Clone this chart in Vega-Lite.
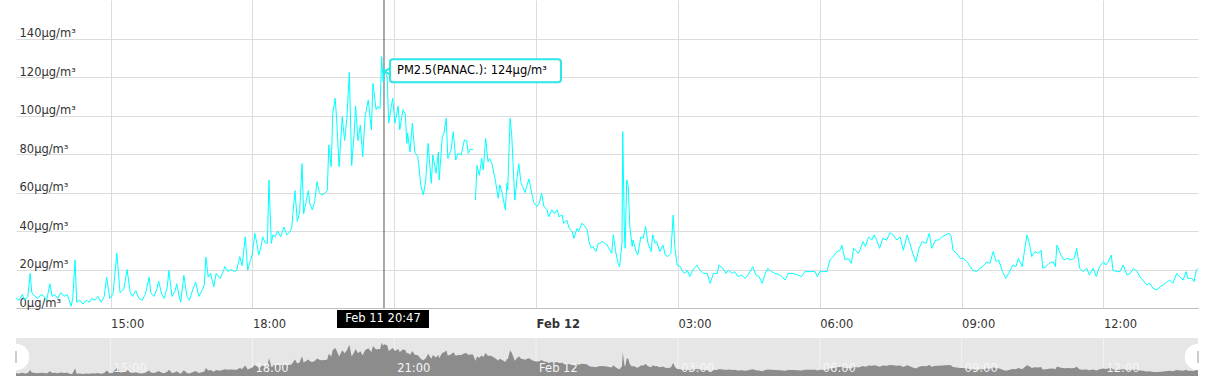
{
  "width": 1182,
  "height": 308,
  "autosize": {"type": "none"},
  "padding": {"left": 16, "top": 0, "right": 20, "bottom": 68},
  "config": {"view": {"stroke": null}},
  "data": {"values": [
      {"t":"2015-02-11T13:00","v":5},{"t":"2015-02-11T13:04","v":4},{"t":"2015-02-11T13:08","v":7},{"t":"2015-02-11T13:11","v":4},{"t":"2015-02-11T13:15","v":6},{"t":"2015-02-11T13:18","v":18},{"t":"2015-02-11T13:20","v":8},{"t":"2015-02-11T13:24","v":6},{"t":"2015-02-11T13:28","v":5},{"t":"2015-02-11T13:32","v":7},{"t":"2015-02-11T13:36","v":6},{"t":"2015-02-11T13:39","v":4},{"t":"2015-02-11T13:43","v":12.6},{"t":"2015-02-11T13:46","v":6},{"t":"2015-02-11T13:49","v":7},{"t":"2015-02-11T13:53","v":5},{"t":"2015-02-11T13:57","v":8},
      {"t":"2015-02-11T14:01","v":6},{"t":"2015-02-11T14:05","v":7},{"t":"2015-02-11T14:10","v":1},{"t":"2015-02-11T14:12","v":5},{"t":"2015-02-11T14:15","v":25},{"t":"2015-02-11T14:17","v":3},{"t":"2015-02-11T14:21","v":4},{"t":"2015-02-11T14:25","v":2},{"t":"2015-02-11T14:29","v":4},{"t":"2015-02-11T14:33","v":3},{"t":"2015-02-11T14:36","v":5},{"t":"2015-02-11T14:40","v":4},{"t":"2015-02-11T14:44","v":6},{"t":"2015-02-11T14:48","v":3},{"t":"2015-02-11T14:52","v":6},{"t":"2015-02-11T14:55","v":16},{"t":"2015-02-11T14:59","v":5},
      {"t":"2015-02-11T15:03","v":7},{"t":"2015-02-11T15:08","v":28.5},{"t":"2015-02-11T15:12","v":8},{"t":"2015-02-11T15:17","v":10},{"t":"2015-02-11T15:21","v":20},{"t":"2015-02-11T15:25","v":8},{"t":"2015-02-11T15:28","v":6},{"t":"2015-02-11T15:32","v":9},{"t":"2015-02-11T15:36","v":5},{"t":"2015-02-11T15:40","v":4},{"t":"2015-02-11T15:44","v":7},{"t":"2015-02-11T15:49","v":16},{"t":"2015-02-11T15:51","v":8},{"t":"2015-02-11T15:55","v":6},{"t":"2015-02-11T15:59","v":10},
      {"t":"2015-02-11T16:01","v":14},{"t":"2015-02-11T16:05","v":7},{"t":"2015-02-11T16:08","v":5},{"t":"2015-02-11T16:12","v":11},{"t":"2015-02-11T16:14","v":19.5},{"t":"2015-02-11T16:18","v":6},{"t":"2015-02-11T16:22","v":9},{"t":"2015-02-11T16:24","v":12.6},{"t":"2015-02-11T16:27","v":6},{"t":"2015-02-11T16:29","v":3},{"t":"2015-02-11T16:33","v":17},{"t":"2015-02-11T16:37","v":6},{"t":"2015-02-11T16:40","v":4},{"t":"2015-02-11T16:43","v":8},{"t":"2015-02-11T16:48","v":13.5},{"t":"2015-02-11T16:52","v":6},{"t":"2015-02-11T16:56","v":9},{"t":"2015-02-11T16:59","v":12},
      {"t":"2015-02-11T17:01","v":26.5},{"t":"2015-02-11T17:04","v":16},{"t":"2015-02-11T17:07","v":18},{"t":"2015-02-11T17:11","v":11},{"t":"2015-02-11T17:14","v":18},{"t":"2015-02-11T17:19","v":15.4},{"t":"2015-02-11T17:23","v":19},{"t":"2015-02-11T17:25","v":21.5},{"t":"2015-02-11T17:29","v":19},{"t":"2015-02-11T17:33","v":20},{"t":"2015-02-11T17:37","v":19},{"t":"2015-02-11T17:40","v":19.5},{"t":"2015-02-11T17:44","v":26.7},{"t":"2015-02-11T17:47","v":22},{"t":"2015-02-11T17:51","v":37},{"t":"2015-02-11T17:54","v":19.7},{"t":"2015-02-11T17:57","v":24},
      {"t":"2015-02-11T18:00","v":28},{"t":"2015-02-11T18:03","v":38.8},{"t":"2015-02-11T18:06","v":33},{"t":"2015-02-11T18:08","v":27.5},{"t":"2015-02-11T18:11","v":32},{"t":"2015-02-11T18:13","v":37},{"t":"2015-02-11T18:16","v":34},{"t":"2015-02-11T18:19","v":33.6},{"t":"2015-02-11T18:21","v":66.5},{"t":"2015-02-11T18:24","v":33.6},{"t":"2015-02-11T18:26","v":38},{"t":"2015-02-11T18:29","v":37},{"t":"2015-02-11T18:32","v":40},{"t":"2015-02-11T18:36","v":37},{"t":"2015-02-11T18:40","v":42},{"t":"2015-02-11T18:44","v":38},{"t":"2015-02-11T18:48","v":40},{"t":"2015-02-11T18:50","v":42},{"t":"2015-02-11T18:54","v":61},{"t":"2015-02-11T18:57","v":45},
      {"t":"2015-02-11T19:00","v":50},{"t":"2015-02-11T19:03","v":75},{"t":"2015-02-11T19:05","v":49},{"t":"2015-02-11T19:08","v":55},{"t":"2015-02-11T19:11","v":61},{"t":"2015-02-11T19:13","v":54},{"t":"2015-02-11T19:16","v":51},{"t":"2015-02-11T19:19","v":55},{"t":"2015-02-11T19:22","v":65.6},{"t":"2015-02-11T19:25","v":60},{"t":"2015-02-11T19:28","v":58.7},{"t":"2015-02-11T19:32","v":59.6},{"t":"2015-02-11T19:35","v":61},{"t":"2015-02-11T19:37","v":84.7},{"t":"2015-02-11T19:40","v":73.4},{"t":"2015-02-11T19:42","v":101},{"t":"2015-02-11T19:45","v":109},{"t":"2015-02-11T19:47","v":97.7},{"t":"2015-02-11T19:50","v":73.4},{"t":"2015-02-11T19:54","v":99.4},{"t":"2015-02-11T19:57","v":87},
      {"t":"2015-02-11T20:00","v":99},{"t":"2015-02-11T20:03","v":122.4},{"t":"2015-02-11T20:06","v":74},{"t":"2015-02-11T20:09","v":90},{"t":"2015-02-11T20:11","v":105},{"t":"2015-02-11T20:14","v":87},{"t":"2015-02-11T20:17","v":95},{"t":"2015-02-11T20:20","v":78.6},{"t":"2015-02-11T20:23","v":99.4},{"t":"2015-02-11T20:27","v":108},{"t":"2015-02-11T20:31","v":92.5},{"t":"2015-02-11T20:33","v":116.7},{"t":"2015-02-11T20:37","v":103},{"t":"2015-02-11T20:39","v":104.6},{"t":"2015-02-11T20:42","v":103.7},{"t":"2015-02-11T20:44","v":130.6},{"t":"2015-02-11T20:46","v":117.6},{"t":"2015-02-11T20:47","v":124},{"t":"2015-02-11T20:51","v":120},{"t":"2015-02-11T20:53","v":96},{"t":"2015-02-11T20:56","v":104},{"t":"2015-02-11T20:58","v":109},
      {"t":"2015-02-11T21:01","v":96},{"t":"2015-02-11T21:05","v":105},{"t":"2015-02-11T21:07","v":92.5},{"t":"2015-02-11T21:11","v":103},{"t":"2015-02-11T21:14","v":101},{"t":"2015-02-11T21:16","v":85.5},{"t":"2015-02-11T21:17","v":90.7},{"t":"2015-02-11T21:20","v":81},{"t":"2015-02-11T21:23","v":96},{"t":"2015-02-11T21:26","v":81},{"t":"2015-02-11T21:30","v":78.6},{"t":"2015-02-11T21:34","v":63},{"t":"2015-02-11T21:37","v":58.7},{"t":"2015-02-11T21:40","v":66.5},{"t":"2015-02-11T21:43","v":85.5},{"t":"2015-02-11T21:47","v":64.8},{"t":"2015-02-11T21:49","v":79.5},{"t":"2015-02-11T21:53","v":70},{"t":"2015-02-11T21:56","v":81},{"t":"2015-02-11T21:57","v":66.5},
      {"t":"2015-02-11T22:01","v":89},{"t":"2015-02-11T22:03","v":90.7},{"t":"2015-02-11T22:06","v":98.5},{"t":"2015-02-11T22:08","v":77.7},{"t":"2015-02-11T22:12","v":82},{"t":"2015-02-11T22:15","v":91.6},{"t":"2015-02-11T22:18","v":76.9},{"t":"2015-02-11T22:21","v":80.3},{"t":"2015-02-11T22:25","v":79.5},{"t":"2015-02-11T22:29","v":87.3},{"t":"2015-02-11T22:32","v":87},{"t":"2015-02-11T22:34","v":80.3},{"t":"2015-02-11T22:36","v":82.4},{"t":"2015-02-11T22:40","v":82.4},{"t":"2015-02-11T22:43","v":56,"s":"b"},{"t":"2015-02-11T22:45","v":74,"s":"b"},{"t":"2015-02-11T22:48","v":69,"s":"b"},{"t":"2015-02-11T22:51","v":77.7,"s":"b"},{"t":"2015-02-11T22:53","v":71.7,"s":"b"},{"t":"2015-02-11T22:56","v":88,"s":"b"},{"t":"2015-02-11T22:59","v":76,"s":"b"},
      {"t":"2015-02-11T23:01","v":77.7,"s":"b"},{"t":"2015-02-11T23:04","v":75,"s":"b"},{"t":"2015-02-11T23:08","v":67,"s":"b"},{"t":"2015-02-11T23:12","v":57,"s":"b"},{"t":"2015-02-11T23:14","v":64,"s":"b"},{"t":"2015-02-11T23:17","v":59.6,"s":"b"},{"t":"2015-02-11T23:21","v":51,"s":"b"},{"t":"2015-02-11T23:23","v":64.8,"s":"b"},{"t":"2015-02-11T23:24","v":61.3,"s":"b"},{"t":"2015-02-11T23:27","v":98.5,"s":"b"},{"t":"2015-02-11T23:29","v":90.7,"s":"b"},{"t":"2015-02-11T23:31","v":73.4,"s":"b"},{"t":"2015-02-11T23:33","v":56,"s":"b"},{"t":"2015-02-11T23:36","v":68,"s":"b"},{"t":"2015-02-11T23:38","v":75,"s":"b"},{"t":"2015-02-11T23:41","v":64.8,"s":"b"},{"t":"2015-02-11T23:43","v":63,"s":"b"},{"t":"2015-02-11T23:46","v":60,"s":"b"},{"t":"2015-02-11T23:48","v":63,"s":"b"},{"t":"2015-02-11T23:51","v":67,"s":"b"},{"t":"2015-02-11T23:55","v":58.7,"s":"b"},{"t":"2015-02-11T23:57","v":55,"s":"b"},
      {"t":"2015-02-12T00:01","v":52.6,"s":"b"},{"t":"2015-02-12T00:04","v":54.4,"s":"b"},{"t":"2015-02-12T00:07","v":59.6,"s":"b"},{"t":"2015-02-12T00:10","v":52.6,"s":"b"},{"t":"2015-02-12T00:14","v":51,"s":"b"},{"t":"2015-02-12T00:16","v":47.4,"s":"b"},{"t":"2015-02-12T00:20","v":51,"s":"b"},{"t":"2015-02-12T00:23","v":49,"s":"b"},{"t":"2015-02-12T00:27","v":51,"s":"b"},{"t":"2015-02-12T00:29","v":47.4,"s":"b"},{"t":"2015-02-12T00:33","v":48.3,"s":"b"},{"t":"2015-02-12T00:35","v":44,"s":"b"},{"t":"2015-02-12T00:39","v":45.7,"s":"b"},{"t":"2015-02-12T00:42","v":41.4,"s":"b"},{"t":"2015-02-12T00:46","v":39.7,"s":"b"},{"t":"2015-02-12T00:48","v":36.2,"s":"b"},{"t":"2015-02-12T00:52","v":41.4,"s":"b"},{"t":"2015-02-12T00:54","v":39.7,"s":"b"},{"t":"2015-02-12T00:58","v":44,"s":"b"},
      {"t":"2015-02-12T01:01","v":43,"s":"b"},{"t":"2015-02-12T01:05","v":40.5,"s":"b"},{"t":"2015-02-12T01:07","v":34.5,"s":"b"},{"t":"2015-02-12T01:10","v":31,"s":"b"},{"t":"2015-02-12T01:12","v":31.9,"s":"b"},{"t":"2015-02-12T01:16","v":29.3,"s":"b"},{"t":"2015-02-12T01:19","v":33.6,"s":"b"},{"t":"2015-02-12T01:21","v":33.6,"s":"b"},{"t":"2015-02-12T01:24","v":34.5,"s":"b"},{"t":"2015-02-12T01:27","v":33.6,"s":"b"},{"t":"2015-02-12T01:30","v":33,"s":"b"},{"t":"2015-02-12T01:31","v":31.9,"s":"b"},{"t":"2015-02-12T01:36","v":28.4,"s":"b"},{"t":"2015-02-12T01:38","v":38,"s":"b"},{"t":"2015-02-12T01:41","v":29.3,"s":"b"},{"t":"2015-02-12T01:44","v":23.2,"s":"b"},{"t":"2015-02-12T01:46","v":21.5,"s":"b"},{"t":"2015-02-12T01:49","v":33.6,"s":"b"},{"t":"2015-02-12T01:50","v":91.6,"s":"b"},{"t":"2015-02-12T01:52","v":40.5,"s":"b"},{"t":"2015-02-12T01:53","v":31,"s":"b"},{"t":"2015-02-12T01:55","v":66.5,"s":"b"},{"t":"2015-02-12T01:57","v":63,"s":"b"},{"t":"2015-02-12T01:59","v":42,"s":"b"},
      {"t":"2015-02-12T02:02","v":31.9,"s":"b"},{"t":"2015-02-12T02:03","v":35.3,"s":"b"},{"t":"2015-02-12T02:07","v":29.3,"s":"b"},{"t":"2015-02-12T02:09","v":27.5,"s":"b"},{"t":"2015-02-12T02:13","v":37,"s":"b"},{"t":"2015-02-12T02:16","v":36.2,"s":"b"},{"t":"2015-02-12T02:19","v":42.3,"s":"b"},{"t":"2015-02-12T02:22","v":33.6,"s":"b"},{"t":"2015-02-12T02:26","v":29.3,"s":"b"},{"t":"2015-02-12T02:28","v":38,"s":"b"},{"t":"2015-02-12T02:31","v":33.6,"s":"b"},{"t":"2015-02-12T02:33","v":34.5,"s":"b"},{"t":"2015-02-12T02:37","v":29.3,"s":"b"},{"t":"2015-02-12T02:41","v":32.7,"s":"b"},{"t":"2015-02-12T02:44","v":27.5,"s":"b"},{"t":"2015-02-12T02:47","v":26.7,"s":"b"},{"t":"2015-02-12T02:51","v":28.4,"s":"b"},{"t":"2015-02-12T02:54","v":48.3,"s":"b"},{"t":"2015-02-12T02:56","v":31.9,"s":"b"},{"t":"2015-02-12T02:59","v":22.3,"s":"b"},
      {"t":"2015-02-12T03:03","v":21.5,"s":"b"},{"t":"2015-02-12T03:06","v":18.9,"s":"b"},{"t":"2015-02-12T03:09","v":18,"s":"b"},{"t":"2015-02-12T03:12","v":19.7,"s":"b"},{"t":"2015-02-12T03:15","v":16.3,"s":"b"},{"t":"2015-02-12T03:19","v":19.7,"s":"b"},{"t":"2015-02-12T03:24","v":22.3,"s":"b"},{"t":"2015-02-12T03:28","v":19.7,"s":"b"},{"t":"2015-02-12T03:32","v":18,"s":"b"},{"t":"2015-02-12T03:37","v":18,"s":"b"},{"t":"2015-02-12T03:41","v":12.8,"s":"b"},{"t":"2015-02-12T03:45","v":18,"s":"b"},{"t":"2015-02-12T03:50","v":18,"s":"b"},{"t":"2015-02-12T03:52","v":22.3,"s":"b"},{"t":"2015-02-12T03:57","v":20.6,"s":"b"},
      {"t":"2015-02-12T04:01","v":18,"s":"b"},{"t":"2015-02-12T04:04","v":19.7,"s":"b"},{"t":"2015-02-12T04:09","v":18,"s":"b"},{"t":"2015-02-12T04:12","v":18.9,"s":"b"},{"t":"2015-02-12T04:16","v":16.3,"s":"b"},{"t":"2015-02-12T04:21","v":17.1,"s":"b"},{"t":"2015-02-12T04:25","v":15.4,"s":"b"},{"t":"2015-02-12T04:29","v":17.1,"s":"b"},{"t":"2015-02-12T04:35","v":21.5,"s":"b"},{"t":"2015-02-12T04:39","v":17.1,"s":"b"},{"t":"2015-02-12T04:43","v":16.3,"s":"b"},{"t":"2015-02-12T04:47","v":12.8,"s":"b"},{"t":"2015-02-12T04:50","v":17.1,"s":"b"},{"t":"2015-02-12T04:54","v":20.6,"s":"b"},{"t":"2015-02-12T04:59","v":18.9,"s":"b"},
      {"t":"2015-02-12T05:03","v":18,"s":"b"},{"t":"2015-02-12T05:10","v":17.1,"s":"b"},{"t":"2015-02-12T05:16","v":14.5,"s":"b"},{"t":"2015-02-12T05:20","v":18,"s":"b"},{"t":"2015-02-12T05:26","v":18,"s":"b"},{"t":"2015-02-12T05:32","v":17.1,"s":"b"},{"t":"2015-02-12T05:37","v":16.3,"s":"b"},{"t":"2015-02-12T05:41","v":18.9,"s":"b"},{"t":"2015-02-12T05:48","v":18.9,"s":"b"},{"t":"2015-02-12T05:54","v":18.9,"s":"b"},{"t":"2015-02-12T05:57","v":16.3,"s":"b"},
      {"t":"2015-02-12T06:00","v":18.9,"s":"b"},{"t":"2015-02-12T06:05","v":18.9,"s":"b"},{"t":"2015-02-12T06:09","v":18.9,"s":"b"},{"t":"2015-02-12T06:13","v":25,"s":"b"},{"t":"2015-02-12T06:17","v":26.7,"s":"b"},{"t":"2015-02-12T06:22","v":29.3,"s":"b"},{"t":"2015-02-12T06:26","v":30,"s":"b"},{"t":"2015-02-12T06:28","v":32.7,"s":"b"},{"t":"2015-02-12T06:32","v":25,"s":"b"},{"t":"2015-02-12T06:36","v":25.8,"s":"b"},{"t":"2015-02-12T06:40","v":23.2,"s":"b"},{"t":"2015-02-12T06:43","v":31,"s":"b"},{"t":"2015-02-12T06:49","v":28.4,"s":"b"},{"t":"2015-02-12T06:51","v":30,"s":"b"},{"t":"2015-02-12T06:55","v":34.5,"s":"b"},{"t":"2015-02-12T06:58","v":31.9,"s":"b"},
      {"t":"2015-02-12T07:02","v":37,"s":"b"},{"t":"2015-02-12T07:06","v":35.3,"s":"b"},{"t":"2015-02-12T07:09","v":38,"s":"b"},{"t":"2015-02-12T07:13","v":34.5,"s":"b"},{"t":"2015-02-12T07:16","v":31,"s":"b"},{"t":"2015-02-12T07:20","v":36.2,"s":"b"},{"t":"2015-02-12T07:25","v":35.3,"s":"b"},{"t":"2015-02-12T07:29","v":39.1,"s":"b"},{"t":"2015-02-12T07:33","v":38,"s":"b"},{"t":"2015-02-12T07:38","v":35.3,"s":"b"},{"t":"2015-02-12T07:42","v":37,"s":"b"},{"t":"2015-02-12T07:46","v":30,"s":"b"},{"t":"2015-02-12T07:51","v":38,"s":"b"},{"t":"2015-02-12T07:55","v":32.7,"s":"b"},{"t":"2015-02-12T07:58","v":28.4,"s":"b"},
      {"t":"2015-02-12T08:02","v":24,"s":"b"},{"t":"2015-02-12T08:06","v":31,"s":"b"},{"t":"2015-02-12T08:10","v":34.5,"s":"b"},{"t":"2015-02-12T08:15","v":33.6,"s":"b"},{"t":"2015-02-12T08:19","v":38.8,"s":"b"},{"t":"2015-02-12T08:22","v":31,"s":"b"},{"t":"2015-02-12T08:27","v":35.3,"s":"b"},{"t":"2015-02-12T08:31","v":35.3,"s":"b"},{"t":"2015-02-12T08:35","v":37,"s":"b"},{"t":"2015-02-12T08:40","v":38,"s":"b"},{"t":"2015-02-12T08:44","v":38.8,"s":"b"},{"t":"2015-02-12T08:47","v":37,"s":"b"},{"t":"2015-02-12T08:49","v":30,"s":"b"},{"t":"2015-02-12T08:54","v":28.4,"s":"b"},{"t":"2015-02-12T08:58","v":25.8,"s":"b"},
      {"t":"2015-02-12T09:02","v":25.8,"s":"b"},{"t":"2015-02-12T09:07","v":24,"s":"b"},{"t":"2015-02-12T09:11","v":21.5,"s":"b"},{"t":"2015-02-12T09:14","v":19.7,"s":"b"},{"t":"2015-02-12T09:19","v":18.9,"s":"b"},{"t":"2015-02-12T09:23","v":20.6,"s":"b"},{"t":"2015-02-12T09:27","v":21.5,"s":"b"},{"t":"2015-02-12T09:32","v":24,"s":"b"},{"t":"2015-02-12T09:36","v":23.2,"s":"b"},{"t":"2015-02-12T09:40","v":29.3,"s":"b"},{"t":"2015-02-12T09:44","v":24,"s":"b"},{"t":"2015-02-12T09:47","v":25,"s":"b"},{"t":"2015-02-12T09:52","v":18.9,"s":"b"},{"t":"2015-02-12T09:56","v":15.4,"s":"b"},
      {"t":"2015-02-12T10:00","v":18,"s":"b"},{"t":"2015-02-12T10:05","v":22.3,"s":"b"},{"t":"2015-02-12T10:09","v":21.5,"s":"b"},{"t":"2015-02-12T10:12","v":25.8,"s":"b"},{"t":"2015-02-12T10:17","v":21.5,"s":"b"},{"t":"2015-02-12T10:19","v":27.5,"s":"b"},{"t":"2015-02-12T10:23","v":38,"s":"b"},{"t":"2015-02-12T10:26","v":33.6,"s":"b"},{"t":"2015-02-12T10:29","v":26.7,"s":"b"},{"t":"2015-02-12T10:33","v":29.3,"s":"b"},{"t":"2015-02-12T10:37","v":28.4,"s":"b"},{"t":"2015-02-12T10:41","v":30,"s":"b"},{"t":"2015-02-12T10:43","v":20.6,"s":"b"},{"t":"2015-02-12T10:47","v":21.5,"s":"b"},{"t":"2015-02-12T10:51","v":23.2,"s":"b"},{"t":"2015-02-12T10:56","v":24,"s":"b"},{"t":"2015-02-12T10:59","v":21.5,"s":"b"},
      {"t":"2015-02-12T11:01","v":32.7,"s":"b"},{"t":"2015-02-12T11:06","v":27.5,"s":"b"},{"t":"2015-02-12T11:10","v":25,"s":"b"},{"t":"2015-02-12T11:14","v":25.8,"s":"b"},{"t":"2015-02-12T11:19","v":25,"s":"b"},{"t":"2015-02-12T11:23","v":25.8,"s":"b"},{"t":"2015-02-12T11:26","v":31,"s":"b"},{"t":"2015-02-12T11:30","v":20.6,"s":"b"},{"t":"2015-02-12T11:34","v":18.9,"s":"b"},{"t":"2015-02-12T11:39","v":20.6,"s":"b"},{"t":"2015-02-12T11:42","v":17.1,"s":"b"},{"t":"2015-02-12T11:47","v":20.6,"s":"b"},{"t":"2015-02-12T11:51","v":16.3,"s":"b"},{"t":"2015-02-12T11:55","v":21.5,"s":"b"},
      {"t":"2015-02-12T12:00","v":24,"s":"b"},{"t":"2015-02-12T12:03","v":22.3,"s":"b"},{"t":"2015-02-12T12:06","v":24,"s":"b"},{"t":"2015-02-12T12:10","v":27.5,"s":"b"},{"t":"2015-02-12T12:12","v":19.7,"s":"b"},{"t":"2015-02-12T12:17","v":18.9,"s":"b"},{"t":"2015-02-12T12:21","v":18.9,"s":"b"},{"t":"2015-02-12T12:25","v":22.3,"s":"b"},{"t":"2015-02-12T12:30","v":17.1,"s":"b"},{"t":"2015-02-12T12:34","v":18,"s":"b"},{"t":"2015-02-12T12:38","v":20.6,"s":"b"},{"t":"2015-02-12T12:43","v":18.9,"s":"b"},{"t":"2015-02-12T12:46","v":16.3,"s":"b"},{"t":"2015-02-12T12:50","v":14.5,"s":"b"},{"t":"2015-02-12T12:55","v":12,"s":"b"},{"t":"2015-02-12T12:59","v":12.8,"s":"b"},
      {"t":"2015-02-12T13:03","v":10.2,"s":"b"},{"t":"2015-02-12T13:08","v":9.4,"s":"b"},{"t":"2015-02-12T13:12","v":11,"s":"b"},{"t":"2015-02-12T13:16","v":12,"s":"b"},{"t":"2015-02-12T13:21","v":13.7,"s":"b"},{"t":"2015-02-12T13:24","v":14.5,"s":"b"},{"t":"2015-02-12T13:28","v":12.8,"s":"b"},{"t":"2015-02-12T13:33","v":18,"s":"b"},{"t":"2015-02-12T13:37","v":16.3,"s":"b"},{"t":"2015-02-12T13:41","v":14.5,"s":"b"},{"t":"2015-02-12T13:45","v":18.9,"s":"b"},{"t":"2015-02-12T13:47","v":15.4,"s":"b"},{"t":"2015-02-12T13:52","v":15.4,"s":"b"},{"t":"2015-02-12T13:55","v":13.7,"s":"b"},{"t":"2015-02-12T13:58","v":19.7,"s":"b"},{"t":"2015-02-12T14:00","v":20.6,"s":"b"}
  ]},
  "resolve": {"scale": {"y": "independent"}},
  "layer": [
    {
      "layer": [
        {
          "data": {"values": [{"t": "2015-02-11T20:47", "v": 124}]},
          "mark": {"type": "rule", "color": "#555555", "strokeWidth": 1},
          "encoding": {
            "x": {"field": "t", "type": "temporal", "title": null}
          }
        },
        {
          "mark": {"type": "line", "color": "#00FFFF", "strokeWidth": 1},
          "encoding": {
            "detail": {"field": "s", "type": "nominal"},
            "x": {"field": "t", "type": "temporal", "title": null,
              "scale": {"nice": false},
              "axis": {
                "tickCount": 9, "format": "%H:%M",
                "labelExpr": "datum.label == '00:00' ? 'Feb 12' : (datum.label == '21:00' ? '' : datum.label)",
                "labelFontWeight": {"condition": {"test": "datum.label == '00:00'", "value": "bold"}, "value": "normal"},
                "labelAlign": "left", "labelPadding": 10,
                "ticks": false, "domainColor": "#C0C0C0", "grid": true, "gridColor": "#DCDCDC",
                "labelFont": "DejaVu Sans", "labelFontSize": 11.5, "labelColor": "#333333", "labelFlush": false
              }
            },
            "y": {"field": "v", "type": "quantitative", "title": null,
              "scale": {"domain": [0, 160], "nice": false},
              "axis": {
                "orient": "left",
                "values": [0, 20, 40, 60, 80, 100, 120, 140],
                "labelExpr": "datum.label + '\u00b5g/m\u00b3'",
                "labelAlign": "left", "labelPadding": -3, "labelBaseline": "bottom",
                "ticks": false, "domain": false, "grid": true, "gridColor": "#DCDCDC",
                "labelFont": "DejaVu Sans", "labelFontSize": 11.5, "labelColor": "#333333"
              }
            }
          }
        },
        {
          "data": {"values": [{"t": "2015-02-11T20:47", "v": 124}]},
          "mark": {"type": "point", "shape": "triangle-left", "filled": true, "fill": "#FFFFFF", "stroke": "#2EE6E6", "strokeWidth": 2, "size": 110, "opacity": 1, "xOffset": 5, "yOffset": 2},
          "encoding": {
            "x": {"field": "t", "type": "temporal", "title": null},
            "y": {"field": "v", "type": "quantitative", "title": null}
          }
        },
        {
          "data": {"values": [{"t": "2015-02-11T20:47", "v": 124}]},
          "mark": {"type": "rect", "fill": "#FFFFFF", "stroke": "#2EE6E6", "strokeWidth": 2, "cornerRadius": 3, "xOffset": 6, "x2Offset": 177, "yOffset": -10, "y2Offset": 13},
          "encoding": {
            "x": {"field": "t", "type": "temporal", "title": null},
            "x2": {"field": "t"},
            "y": {"field": "v", "type": "quantitative", "title": null},
            "y2": {"field": "v"}
          }
        },
        {
          "data": {"values": [{"t": "2015-02-11T20:47", "v": 124, "tip": "PM2.5(PANAC.): 124\u00b5g/m\u00b3"}]},
          "mark": {"type": "text", "align": "left", "baseline": "middle", "dx": 13, "dy": 2, "font": "DejaVu Sans", "fontSize": 11.5, "color": "#000000"},
          "encoding": {
            "x": {"field": "t", "type": "temporal", "title": null},
            "y": {"field": "v", "type": "quantitative", "title": null},
            "text": {"field": "tip", "type": "nominal"}
          }
        },
        {
          "data": {"values": [{"t": "2015-02-11T20:47", "v": 124}]},
          "mark": {"type": "rect", "fill": "#000000", "xOffset": -47, "x2Offset": 45, "yOffset": 2, "y2Offset": 20},
          "encoding": {
            "x": {"field": "t", "type": "temporal", "title": null},
            "x2": {"field": "t"},
            "y": {"datum": 0, "type": "quantitative"},
            "y2": {"datum": 0}
          }
        },
        {
          "data": {"values": [{"t": "2015-02-11T20:47", "v": 124}]},
          "mark": {"type": "text", "align": "center", "baseline": "middle", "dy": 11, "dx": -1, "font": "DejaVu Sans", "fontSize": 11.5, "color": "#FFFFFF"},
          "encoding": {
            "x": {"field": "t", "type": "temporal", "title": null},
            "y": {"datum": 0, "type": "quantitative"},
            "text": {"field": "t", "type": "temporal", "format": "%b %d %H:%M"}
          }
        }
      ]
    },
    {
      "layer": [
        {
          "data": {"values": [{"start": "2015-02-11T13:00", "end": "2015-02-12T14:00"}]},
          "mark": {"type": "rect", "color": "#E6E6E6", "opacity": 1},
          "encoding": {
            "x": {"field": "start", "type": "temporal", "title": null},
            "x2": {"field": "end"},
            "y": {"datum": 150, "type": "quantitative", "scale": {"domain": [273.75, 1544], "nice": false, "zero": false}, "axis": null},
            "y2": {"datum": -15}
          }
        },
        {
          "data": {"values": [
            {"t": "2015-02-11T15:00", "label": "15:00"}, {"t": "2015-02-11T18:00", "label": "18:00"}, {"t": "2015-02-11T21:00", "label": "21:00"},
            {"t": "2015-02-12T00:00", "label": "Feb 12"}, {"t": "2015-02-12T03:00", "label": "03:00"}, {"t": "2015-02-12T06:00", "label": "06:00"},
            {"t": "2015-02-12T09:00", "label": "09:00"}, {"t": "2015-02-12T12:00", "label": "12:00"}
          ]},
          "mark": {"type": "rule", "color": "#F2F2F2", "strokeWidth": 1},
          "encoding": {
            "x": {"field": "t", "type": "temporal", "title": null},
            "y": {"datum": 150, "type": "quantitative", "axis": null},
            "y2": {"datum": -15}
          }
        },
        {
          "mark": {"type": "area", "color": "#8C8C8C", "opacity": 1},
          "encoding": {
            "x": {"field": "t", "type": "temporal", "title": null},
            "y": {"field": "v", "type": "quantitative", "title": null, "axis": null},
            "y2": {"datum": -15}
          }
        },
        {
          "data": {"values": [
            {"t": "2015-02-11T15:00", "label": "15:00"}, {"t": "2015-02-11T18:00", "label": "18:00"}, {"t": "2015-02-11T21:00", "label": "21:00"},
            {"t": "2015-02-12T00:00", "label": "Feb 12"}, {"t": "2015-02-12T03:00", "label": "03:00"}, {"t": "2015-02-12T06:00", "label": "06:00"},
            {"t": "2015-02-12T09:00", "label": "09:00"}, {"t": "2015-02-12T12:00", "label": "12:00"}
          ]},
          "mark": {"type": "text", "align": "left", "baseline": "alphabetic", "dx": 3, "dy": -6, "font": "DejaVu Sans", "fontSize": 11.5, "color": "#F6F6F6"},
          "encoding": {
            "x": {"field": "t", "type": "temporal", "title": null},
            "y": {"datum": -15, "type": "quantitative", "axis": null},
            "text": {"field": "label", "type": "nominal"}
          }
        },
        {
          "data": {"values": [{"t": "2015-02-11T13:00"}, {"t": "2015-02-12T14:00"}]},
          "mark": {"type": "point", "shape": "circle", "filled": true, "fill": "#FFFFFF", "strokeWidth": 0, "size": 700, "opacity": 1},
          "encoding": {
            "x": {"field": "t", "type": "temporal", "title": null},
            "y": {"datum": 72, "type": "quantitative", "axis": null}
          }
        },
        {
          "data": {"values": [{"t": "2015-02-11T13:00"}, {"t": "2015-02-12T14:00"}]},
          "mark": {"type": "tick", "orient": "vertical", "color": "#999999", "thickness": 1, "size": 12, "opacity": 1},
          "encoding": {
            "x": {"field": "t", "type": "temporal", "title": null},
            "y": {"datum": 72, "type": "quantitative", "axis": null}
          }
        }
      ]
    }
  ]
}
